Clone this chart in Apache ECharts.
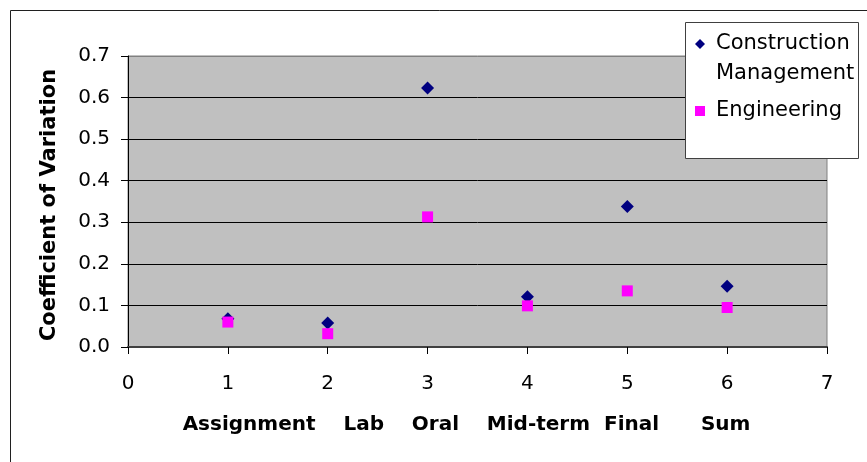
<!DOCTYPE html>
<html>
<head>
<meta charset="utf-8">
<title>Coefficient of Variation</title>
<script src="https://cdn.jsdelivr.net/npm/echarts@6/dist/echarts.min.js"></script>
<style>
  html, body { margin: 0; padding: 0; background: #ffffff; }
  #chart { width: 867px; height: 462px; }
</style>
</head>
<body>
<div id="chart"></div>
<script>
// Assessment components, placed at positions 1..6 on the horizontal axis
const categories = ['Assignment', 'Lab', 'Oral', 'Mid-term', 'Final', 'Sum'];
const positions = [1, 2, 3, 4, 5, 6];

// Coefficient of variation per component
const constructionManagement = [0.068, 0.058, 0.623, 0.121, 0.338, 0.146];
const engineering = [0.060, 0.032, 0.313, 0.099, 0.135, 0.095];

// Axis ticks
const yTicks = { min: 0, max: 0.7, step: 0.1 };
const xTicks = { min: 0, max: 7, step: 1 };

// Spaces between the component names in the axis title line
const nameGaps = [4, 4, 4, 2, 6];

const seriesNames = ['Construction Management', 'Engineering'];

const FONT = 'DejaVu Sans';

const xTitle = categories.map((c, i) =>
  c + (i < nameGaps.length ? ' '.repeat(nameGaps[i]) : '')).join('');

const toPairs = vals => vals.map((v, i) => [positions[i], v]);

// Split lines: inner lines black, top edge of the plot grey
const nLines = Math.round((yTicks.max - yTicks.min) / yTicks.step) + 1;
const splitColors = Array.from({ length: nLines }, (_, i) => i === nLines - 1 ? '#808080' : '#000000');

const chart = echarts.init(document.getElementById('chart'), null, { renderer: 'canvas' });

chart.setOption({
  animation: false,
  backgroundColor: '#ffffff',
  textStyle: { fontFamily: FONT },
  grid: {
    left: 128, top: 56, right: 40, bottom: 115,
    show: true,
    backgroundColor: '#C0C0C0',
    borderColor: '#808080',
    borderWidth: 1
  },
  xAxis: {
    type: 'value',
    min: xTicks.min, max: xTicks.max, interval: xTicks.step,
    name: xTitle,
    nameLocation: 'middle',
    nameGap: 68,
    nameTextStyle: {
      fontFamily: FONT, fontSize: 20, fontWeight: 'bold', color: '#000',
      padding: [0, 22, 0, 0]
    },
    axisLine: { show: true, onZero: false, lineStyle: { color: '#404040', width: 2 } },
    axisTick: { show: true, inside: false, length: 7, lineStyle: { color: '#000', width: 1 } },
    axisLabel: { margin: 27, fontFamily: FONT, fontSize: 20, color: '#000' },
    splitLine: { show: false }
  },
  yAxis: {
    type: 'value',
    min: yTicks.min, max: yTicks.max, interval: yTicks.step,
    name: 'Coefficient of Variation',
    nameLocation: 'middle',
    nameGap: 68,
    nameTextStyle: {
      fontFamily: FONT, fontSize: 21, fontWeight: 'bold', color: '#000',
      padding: [0, 7, 0, 0]
    },
    axisLine: { show: true, onZero: false, lineStyle: { color: '#000', width: 1 } },
    axisTick: { show: true, inside: false, length: 7, lineStyle: { color: '#000', width: 1 } },
    axisLabel: {
      margin: 18, fontFamily: FONT, fontSize: 20, color: '#000',
      formatter: v => v.toFixed(1)
    },
    splitLine: { show: true, lineStyle: { color: splitColors, width: 1 } }
  },
  legend: {
    orient: 'vertical',
    left: 695,
    top: -1,
    padding: 0,
    itemGap: 7,
    itemWidth: 10,
    itemHeight: 10,
    z: 12,
    textStyle: {
      fontFamily: FONT, fontSize: 21, color: '#000', lineHeight: 30,
      padding: [0, 0, 0, 6]
    },
    formatter: name => name === seriesNames[0] ? '\nConstruction\nManagement' : name,
    data: [
      { name: seriesNames[0], icon: 'diamond', itemStyle: { color: '#000080', opacity: 1 } },
      { name: seriesNames[1], icon: 'rect', itemStyle: { color: '#FF00FF', opacity: 1 } }
    ]
  },
  graphic: [
    {
      type: 'rect', z: -10, silent: true,
      shape: { x: 10.5, y: 10.5, width: 1000, height: 600 },
      style: { fill: 'none', stroke: '#202020', lineWidth: 1 }
    },
    {
      type: 'rect', z: 10, silent: true,
      shape: { x: 685.5, y: 22.5, width: 173, height: 136 },
      style: { fill: '#ffffff', stroke: '#404040', lineWidth: 1 }
    }
  ],
  series: [
    {
      name: seriesNames[0],
      type: 'scatter',
      symbol: 'diamond',
      symbolSize: 13,
      itemStyle: { color: '#000080', opacity: 1 },
      data: toPairs(constructionManagement),
      z: 2
    },
    {
      name: seriesNames[1],
      type: 'scatter',
      symbol: 'rect',
      symbolSize: 11,
      itemStyle: { color: '#FF00FF', opacity: 1 },
      data: toPairs(engineering),
      z: 3
    }
  ]
});
</script>
</body>
</html>
